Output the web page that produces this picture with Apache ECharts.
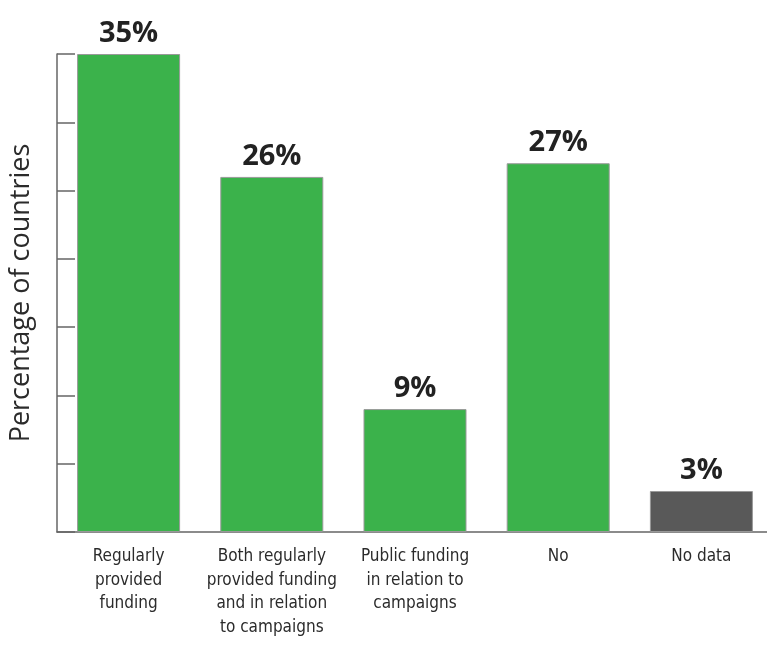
<!DOCTYPE html>
<html>
<head>
<meta charset="utf-8">
<script src="https://cdn.jsdelivr.net/npm/echarts@6/dist/echarts.min.js"></script>
<style>
  html, body { margin: 0; padding: 0; background: #fff; overflow: hidden; }
  #chart { width: 773px; height: 645px; }
</style>
</head>
<body>
<div id="chart"></div>
<script>
const categories = [
  'Regularly\nprovided\nfunding',
  'Both regularly\nprovided funding\nand in relation\nto campaigns',
  'Public funding\nin relation to\ncampaigns',
  'No',
  'No data'
];
const values = [35, 26, 9, 27, 3];
const barColors = ['#3bb24b', '#3bb24b', '#3bb24b', '#3bb24b', '#595959'];

const chart = echarts.init(document.getElementById('chart'));

const option = {
  backgroundColor: '#fff',
  grid: {
    top: 54,
    bottom: 113,
    left: 57,
    right: 0,
    containLabel: false
  },
  xAxis: {
    type: 'category',
    data: categories,
    axisLine: {
      lineStyle: { color: '#666', width: 1.5 }
    },
    axisTick: {
      inside: true,
      length: 11,
      lineStyle: { color: '#666', width: 1.5 }
    },
    axisLabel: {
      margin: 13,
      fontFamily: '"Liberation Sans Narrow", "DejaVu Sans Condensed", sans-serif',
      fontSize: 17,
      lineHeight: 23.5,
      color: '#2b2b2b',
      interval: 0
    }
  },
  yAxis: {
    type: 'value',
    min: 0,
    max: 35,
    interval: 5,
    name: 'Percentage of countries',
    nameLocation: 'middle',
    nameGap: 22,
    nameTextStyle: {
      fontFamily: '"Open Sans", sans-serif',
      fontSize: 27,
      color: '#2b2b2b'
    },
    axisLine: {
      show: true,
      lineStyle: { color: '#666', width: 1.5 }
    },
    axisTick: {
      show: true,
      inside: true,
      length: 18,
      lineStyle: { color: '#666', width: 1.5 }
    },
    axisLabel: { show: false },
    splitLine: { show: false }
  },
  series: [
    {
      type: 'bar',
      barWidth: 103,
      data: values.map((v, i) => ({
        value: v,
        itemStyle: { color: barColors[i] }
      })),
      itemStyle: {
        borderColor: '#999',
        borderWidth: 1
      },
      label: {
        show: true,
        position: 'top',
        distance: 6,
        formatter: '{c}%',
        fontFamily: '"Open Sans", sans-serif',
        fontWeight: 'bold',
        fontSize: 29,
        color: '#222'
      }
    }
  ]
};

chart.setOption(option);
</script>
</body>
</html>
